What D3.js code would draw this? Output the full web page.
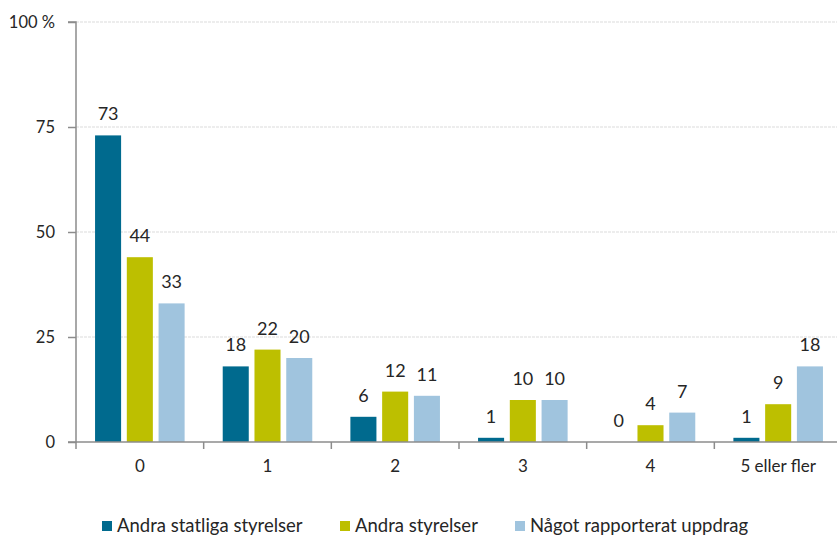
<!DOCTYPE html>
<html>
<head>
<meta charset="utf-8">
<script src="https://cdn.jsdelivr.net/npm/d3@7"></script>
<style>
  body { margin: 0; background: #fff; }
  svg { display: block; font-family: Lato, "Open Sans", sans-serif; }
</style>
</head>
<body>
<svg id="chart" width="837" height="535"></svg>
<script>
// Antal uppdrag per kategori (andel, %)
const categories = ["0", "1", "2", "3", "4", "5 eller fler"];
const seriesNames = ["Andra statliga styrelser", "Andra styrelser", "Något rapporterat uppdrag"];
const andraStatliga = [73, 18, 6, 1, 0, 1];
const andraStyrelser = [44, 22, 12, 10, 4, 9];
const nagotUppdrag = [33, 20, 11, 10, 7, 18];
const yTicks = [0, 25, 50, 75, 100];
const colors = ["#006a8e", "#bdbf00", "#a0c4de"];

const seriesValues = [andraStatliga, andraStyrelser, nagotUppdrag];

const svg = d3.select("#chart");
const plotLeft = 76, plotRight = 842, plotTop = 22, plotBottom = 442;
const textColor = "#262626";
const axisColor = "#8c8c8c";

const x = d3.scaleBand().domain(categories).range([plotLeft, plotRight]).paddingInner(0).paddingOuter(0);
const x1 = d3.scaleBand().domain(d3.range(seriesNames.length))
  .range([0, x.bandwidth()]).paddingInner(0.18).paddingOuter(0.6);
const y = d3.scaleLinear().domain([0, 100]).range([plotBottom, plotTop]);

// Horisontella stödlinjer
svg.append("g").selectAll("line").data(yTicks.filter(d => d > 0)).join("line")
  .attr("x1", plotLeft).attr("x2", 837)
  .attr("y1", d => y(d)).attr("y2", d => y(d))
  .attr("stroke", "#e8e8e8").attr("stroke-width", 1.5)
  .attr("stroke-dasharray", "3,1");

// Staplar
const groups = svg.append("g").selectAll("g").data(categories).join("g")
  .attr("transform", d => `translate(${x(d)},0)`);

groups.selectAll("rect")
  .data((c, i) => seriesValues.map((vals, s) => ({ s, v: vals[i] })))
  .join("rect")
  .attr("x", d => x1(d.s))
  .attr("width", x1.bandwidth())
  .attr("y", d => y(d.v))
  .attr("height", d => y(0) - y(d.v))
  .attr("fill", d => colors[d.s]);

// Värdeetiketter
groups.selectAll("text")
  .data((c, i) => seriesValues.map((vals, s) => ({ s, v: vals[i] })))
  .join("text")
  .attr("x", d => x1(d.s) + x1.bandwidth() / 2)
  .attr("y", d => y(d.v) - 15)
  .attr("text-anchor", "middle")
  .attr("font-size", 18)
  .attr("fill", textColor)
  .text(d => d.v);

// Y-axel
const yAxis = d3.axisLeft(y).tickValues(yTicks).tickSize(8).tickPadding(13)
  .tickFormat(d => d === 100 ? "100 %" : d);
const gy = svg.append("g").attr("transform", `translate(${plotLeft},0)`).call(yAxis);
gy.select(".domain").attr("stroke", axisColor).attr("stroke-width", 1.5)
  .attr("d", `M-8,${plotTop}H0V${plotBottom}H-8`);
gy.selectAll(".tick line").attr("stroke", axisColor).attr("stroke-width", 1.5);
gy.selectAll(".tick text").attr("font-size", 16.5).attr("fill", textColor)
  .attr("font-family", "Lato, sans-serif");

// X-axel
const xTickPos = categories.map(c => x(c));
const gx = svg.append("g");
gx.append("line").attr("x1", plotLeft).attr("x2", 837).attr("y1", plotBottom).attr("y2", plotBottom)
  .attr("stroke", axisColor).attr("stroke-width", 1.5);
gx.selectAll("line.tick").data(xTickPos).join("line").attr("class", "tick")
  .attr("x1", d => d).attr("x2", d => d).attr("y1", plotBottom).attr("y2", plotBottom + 7)
  .attr("stroke", axisColor).attr("stroke-width", 1.5);
gx.selectAll("text").data(categories).join("text")
  .attr("x", d => x(d) + x.bandwidth() / 2)
  .attr("y", 472)
  .attr("text-anchor", "middle")
  .attr("font-size", 17)
  .attr("fill", textColor)
  .text(d => d);

// Teckenförklaring
const legendX = [102, 340, 515];
const legend = svg.append("g").selectAll("g").data(seriesNames).join("g")
  .attr("transform", (d, i) => `translate(${legendX[i]},0)`);
legend.append("rect").attr("x", 0).attr("y", 521).attr("width", 10).attr("height", 10)
  .attr("fill", (d, i) => colors[i]);
legend.append("text").attr("x", 15).attr("y", 532)
  .attr("font-size", 18.5).attr("fill", textColor).text(d => d);
</script>
</body>
</html>
